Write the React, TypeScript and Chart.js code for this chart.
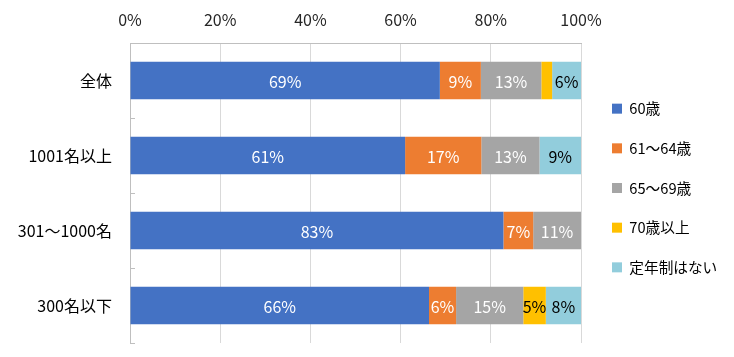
import React, { useEffect, useRef } from "react";
import { Chart, registerables } from "chart.js";

Chart.register(...registerables);

const categories = ["全体", "1001名以上", "301～1000名", "300名以下"];
const seriesNames = ["60歳", "61～64歳", "65～69歳", "70歳以上", "定年制はない"];
const age60 = [68.7, 61.0, 82.8, 66.3];
const age61to64 = [9.1, 16.9, 6.6, 6.0];
const age65to69 = [13.4, 12.9, 10.6, 14.9];
const age70plus = [2.4, 0, 0, 5.0];
const noRetirement = [6.4, 9.2, 0, 7.8];
const xTicks = [0, 20, 40, 60, 80, 100];

const colors = ["#4472C4", "#ED7D31", "#A5A5A5", "#FFC000", "#92CDDC"];
const labelColors = ["#FFFFFF", "#FFFFFF", "#FFFFFF", "#000000", "#000000"];
const FONT = "'Noto Sans CJK JP', 'Noto Sans', sans-serif";

const valueLabels = {
  id: "valueLabels",
  afterDatasetsDraw(chart: any) {
    const ctx = chart.ctx;
    ctx.save();
    ctx.font = `16px ${FONT}`;
    ctx.textAlign = "center";
    ctx.textBaseline = "middle";
    chart.data.datasets.forEach((ds: any, i: number) => {
      const meta = chart.getDatasetMeta(i);
      meta.data.forEach((bar: any, j: number) => {
        const v = ds.data[j];
        if (v < 3) return;
        ctx.fillStyle = labelColors[i];
        ctx.fillText(Math.round(v) + "%", (bar.x + bar.base) / 2, bar.y + 1);
      });
    });
    ctx.restore();
  },
};

const innerTicks = {
  id: "innerTicks",
  afterDraw(chart: any) {
    const ctx = chart.ctx;
    const y = chart.scales.y;
    const left = chart.chartArea.left;
    ctx.save();
    ctx.strokeStyle = "#BFBFBF";
    ctx.lineWidth = 1;
    for (let i = 0; i <= categories.length; i++) {
      const p = Math.round(y.getPixelForValue(i - 0.5)) + 0.5;
      ctx.beginPath();
      ctx.moveTo(left, p);
      ctx.lineTo(left + 5, p);
      ctx.stroke();
    }
    ctx.restore();
  },
};

const legendFit = {
  id: "legendFit",
  afterInit(chart: any) {
    const lg = chart.legend;
    if (!lg) return;
    const orig = lg.fit.bind(lg);
    lg.fit = () => {
      orig();
      lg.width = 153;
    };
  },
  afterLayout(chart: any) {
    const lg = chart.legend;
    if (!lg) return;
    lg.left += 6;
    lg.right += 6;
    lg.top -= 5;
    lg.bottom -= 5;
  },
};

export default function App() {
  const ref = useRef<HTMLCanvasElement>(null);
  useEffect(() => {
    document.body.style.margin = "0";
    const data = [age60, age61to64, age65to69, age70plus, noRetirement];
    const chart = new Chart(ref.current!, {
      type: "bar",
      data: {
        labels: categories,
        datasets: seriesNames.map((name, i) => ({
          label: name,
          data: data[i],
          backgroundColor: colors[i],
          borderWidth: 0,
          barPercentage: 0.5,
          categoryPercentage: 1,
        })),
      },
      options: {
        indexAxis: "y",
        responsive: false,
        animation: false,
        layout: { padding: { top: 11, bottom: 14, left: 10, right: 0 } },
        scales: {
          x: {
            position: "top",
            stacked: true,
            min: 0,
            max: 100,
            afterBuildTicks: (s: any) => {
              s.ticks = xTicks.map((v) => ({ value: v }));
            },
            afterFit: (s: any) => {
              s.height = 32;
              s.paddingLeft = 0;
              s.paddingRight = 0;
            },
            ticks: {
              callback: (v: any) => v + "%",
              color: "#262626",
              font: { size: 16, family: FONT },
              padding: 13,
            },
            grid: { color: "#D9D9D9", drawTicks: false },
            border: { display: true, color: "#BFBFBF" },
          },
          y: {
            stacked: true,
            afterFit: (s: any) => {
              s.width = 120;
              s.paddingTop = 0;
              s.paddingBottom = 0;
            },
            ticks: {
              color: "#000000",
              font: { size: 16, family: FONT },
              padding: 18,
            },
            grid: { display: false, drawTicks: false },
            border: { display: true, color: "#BFBFBF" },
          },
        },
        plugins: {
          legend: {
            position: "right",
            fullSize: false,
            labels: {
              boxWidth: 10,
              boxHeight: 10,
              padding: 25,
              color: "#000000",
              font: { size: 14.67, family: FONT },
            },
          },
          tooltip: { enabled: false },
        },
      },
      plugins: [valueLabels, innerTicks, legendFit],
    });
    return () => chart.destroy();
  }, []);
  return (
    <div style={{ position: "fixed", left: 0, top: 0, width: 734, height: 357, background: "#fff" }}>
      <canvas ref={ref} width={734} height={357} />
    </div>
  );
}
